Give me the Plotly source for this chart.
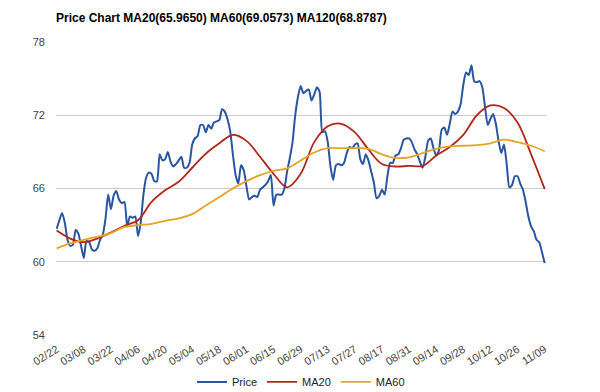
import plotly.graph_objects as go

tick_labels = ["02/22", "03/08", "03/22", "04/06", "04/20", "05/04", "05/18", "06/01", "06/15",
               "06/29", "07/13", "07/27", "08/17", "08/31", "09/14", "09/28", "10/12", "10/26", "11/09"]

price = [62.7, 63.4, 64.0, 63.2, 61.8, 61.3, 61.4, 62.6, 62.3, 61.3,
         60.3, 61.7, 61.6, 61.0, 60.9, 61.1, 61.8, 62.2, 63.5, 65.5,
         64.3, 65.4, 65.8, 65.1, 64.8, 64.9, 62.9, 63.7, 63.6, 63.7,
         62.1, 63.2, 65.5, 66.9, 67.3, 67.2, 66.6, 66.6, 68.8, 68.3,
         68.4, 69.0, 68.2, 67.8, 68.0, 68.3, 68.6, 67.7, 67.7, 68.1,
         69.6, 70.1, 70.3, 71.2, 71.2, 70.6, 71.2, 70.9, 71.4, 71.5,
         71.6, 72.5, 72.3, 71.7, 70.7, 68.8, 67.1, 66.4, 67.9, 67.5,
         66.2, 65.1, 65.3, 65.4, 65.3, 65.9, 66.1, 66.3, 66.6, 67.1,
         64.6, 65.5, 65.5, 65.5, 66.0, 67.4, 68.5, 69.8, 72.0, 73.5,
         74.4, 73.8, 74.0, 74.1, 73.2, 73.7, 74.3, 73.9, 70.6, 70.7,
         69.8, 67.8, 66.7, 67.9, 68.0, 67.9, 68.1, 68.9, 69.4, 69.3,
         69.6, 69.7, 68.4, 68.0, 68.8, 68.3, 67.4, 66.5, 65.2, 65.4,
         65.9, 65.5, 67.0, 68.1, 68.1, 68.7, 68.8, 69.3, 70.0, 70.1,
         70.1, 69.8, 69.2, 68.8, 68.2, 67.7, 68.6, 69.9, 70.1, 69.3,
         68.7, 69.1, 70.8, 71.0, 70.4, 71.3, 72.3, 72.1, 72.3, 72.9,
         74.5, 75.5, 75.3, 76.1, 74.8, 74.7, 74.8, 74.3, 72.7, 71.2,
         71.7, 72.1, 71.3, 69.9, 68.9, 69.6, 68.0, 66.1, 66.3, 67.0,
         67.0, 66.4, 65.9, 64.9, 63.7, 62.9, 62.5, 61.8, 61.6, 60.8,
         59.9]

# moving averages sampled every 5 trading days
ma20 = [62.55, 61.9, 61.6, 61.9, 62.4, 62.95, 63.4, 64.9, 65.85, 66.55,
        67.7, 68.85, 69.7, 70.4, 69.9, 68.6, 67.2, 66.1, 67.2, 69.8,
        71.1, 71.3, 70.6, 69.2, 68.0, 67.8, 67.85, 67.85, 68.7, 69.4,
        70.4, 72.0, 72.8, 72.6, 71.4, 68.8, 65.965]

ma60 = [61.1, 61.5, 61.8, 62.05, 62.35, 62.85, 63.0, 63.1, 63.35, 63.55,
        63.9, 64.6, 65.3, 66.0, 66.6, 67.1, 67.45, 67.65, 68.3, 68.95,
        69.3, 69.3, 69.3, 69.25, 68.8, 68.5, 68.55, 68.9, 69.25, 69.45,
        69.5, 69.55, 69.7, 70.0, 69.8, 69.5, 69.0573]

MA_STEP = 5
TICK_STEP = 10

x_price = list(range(len(price)))
x_ma = [i * MA_STEP for i in range(len(ma20))]

fig = go.Figure()
fig.add_trace(go.Scatter(x=x_price, y=price, mode="lines", name="Price",
                         line=dict(color="#2a55a0", width=2, shape="spline", smoothing=0.6)))
fig.add_trace(go.Scatter(x=x_ma, y=ma20, mode="lines", name="MA20",
                         line=dict(color="#b0281c", width=1.8, shape="spline")))
fig.add_trace(go.Scatter(x=x_ma, y=ma60, mode="lines", name="MA60",
                         line=dict(color="#e6a427", width=1.8, shape="spline")))

fig.update_layout(
    width=600, height=392,
    margin=dict(l=56, r=54, t=42, b=57, autoexpand=False),
    paper_bgcolor="white", plot_bgcolor="white",
    font=dict(family="Liberation Sans, Arial, sans-serif", size=11, color="#444"),
    title=dict(text="<b>Price Chart MA20(65.9650) MA60(69.0573) MA120(68.8787)</b>",
               x=56/600, xanchor="left", y=1 - 18/392, yanchor="middle",
               font=dict(size=12, color="#000")),
    showlegend=True,
    legend=dict(orientation="h", x=0.5, xanchor="center", y=-0.16, yanchor="middle",
                font=dict(size=11, color="#222"), itemwidth=30, traceorder="normal"),
)
fig.update_xaxes(
    range=[-0.25, 180.5], automargin=False,
    tickvals=[i * TICK_STEP for i in range(len(tick_labels))],
    ticktext=tick_labels, tickangle=-32,
    showgrid=False, zeroline=False, showline=False, ticks="",
    ticklabelstandoff=5,
)
fig.update_yaxes(
    range=[54, 78], dtick=6, tick0=54, automargin=False,
    showgrid=True, gridcolor="#cccccc", gridwidth=1,
    zeroline=False, showline=False, ticks="",
    ticklabelstandoff=10,
)

fig.write_html("out.html", config={"displayModeBar": False},
               post_script="document.body.style.margin='0';document.body.style.overflow='hidden';")
